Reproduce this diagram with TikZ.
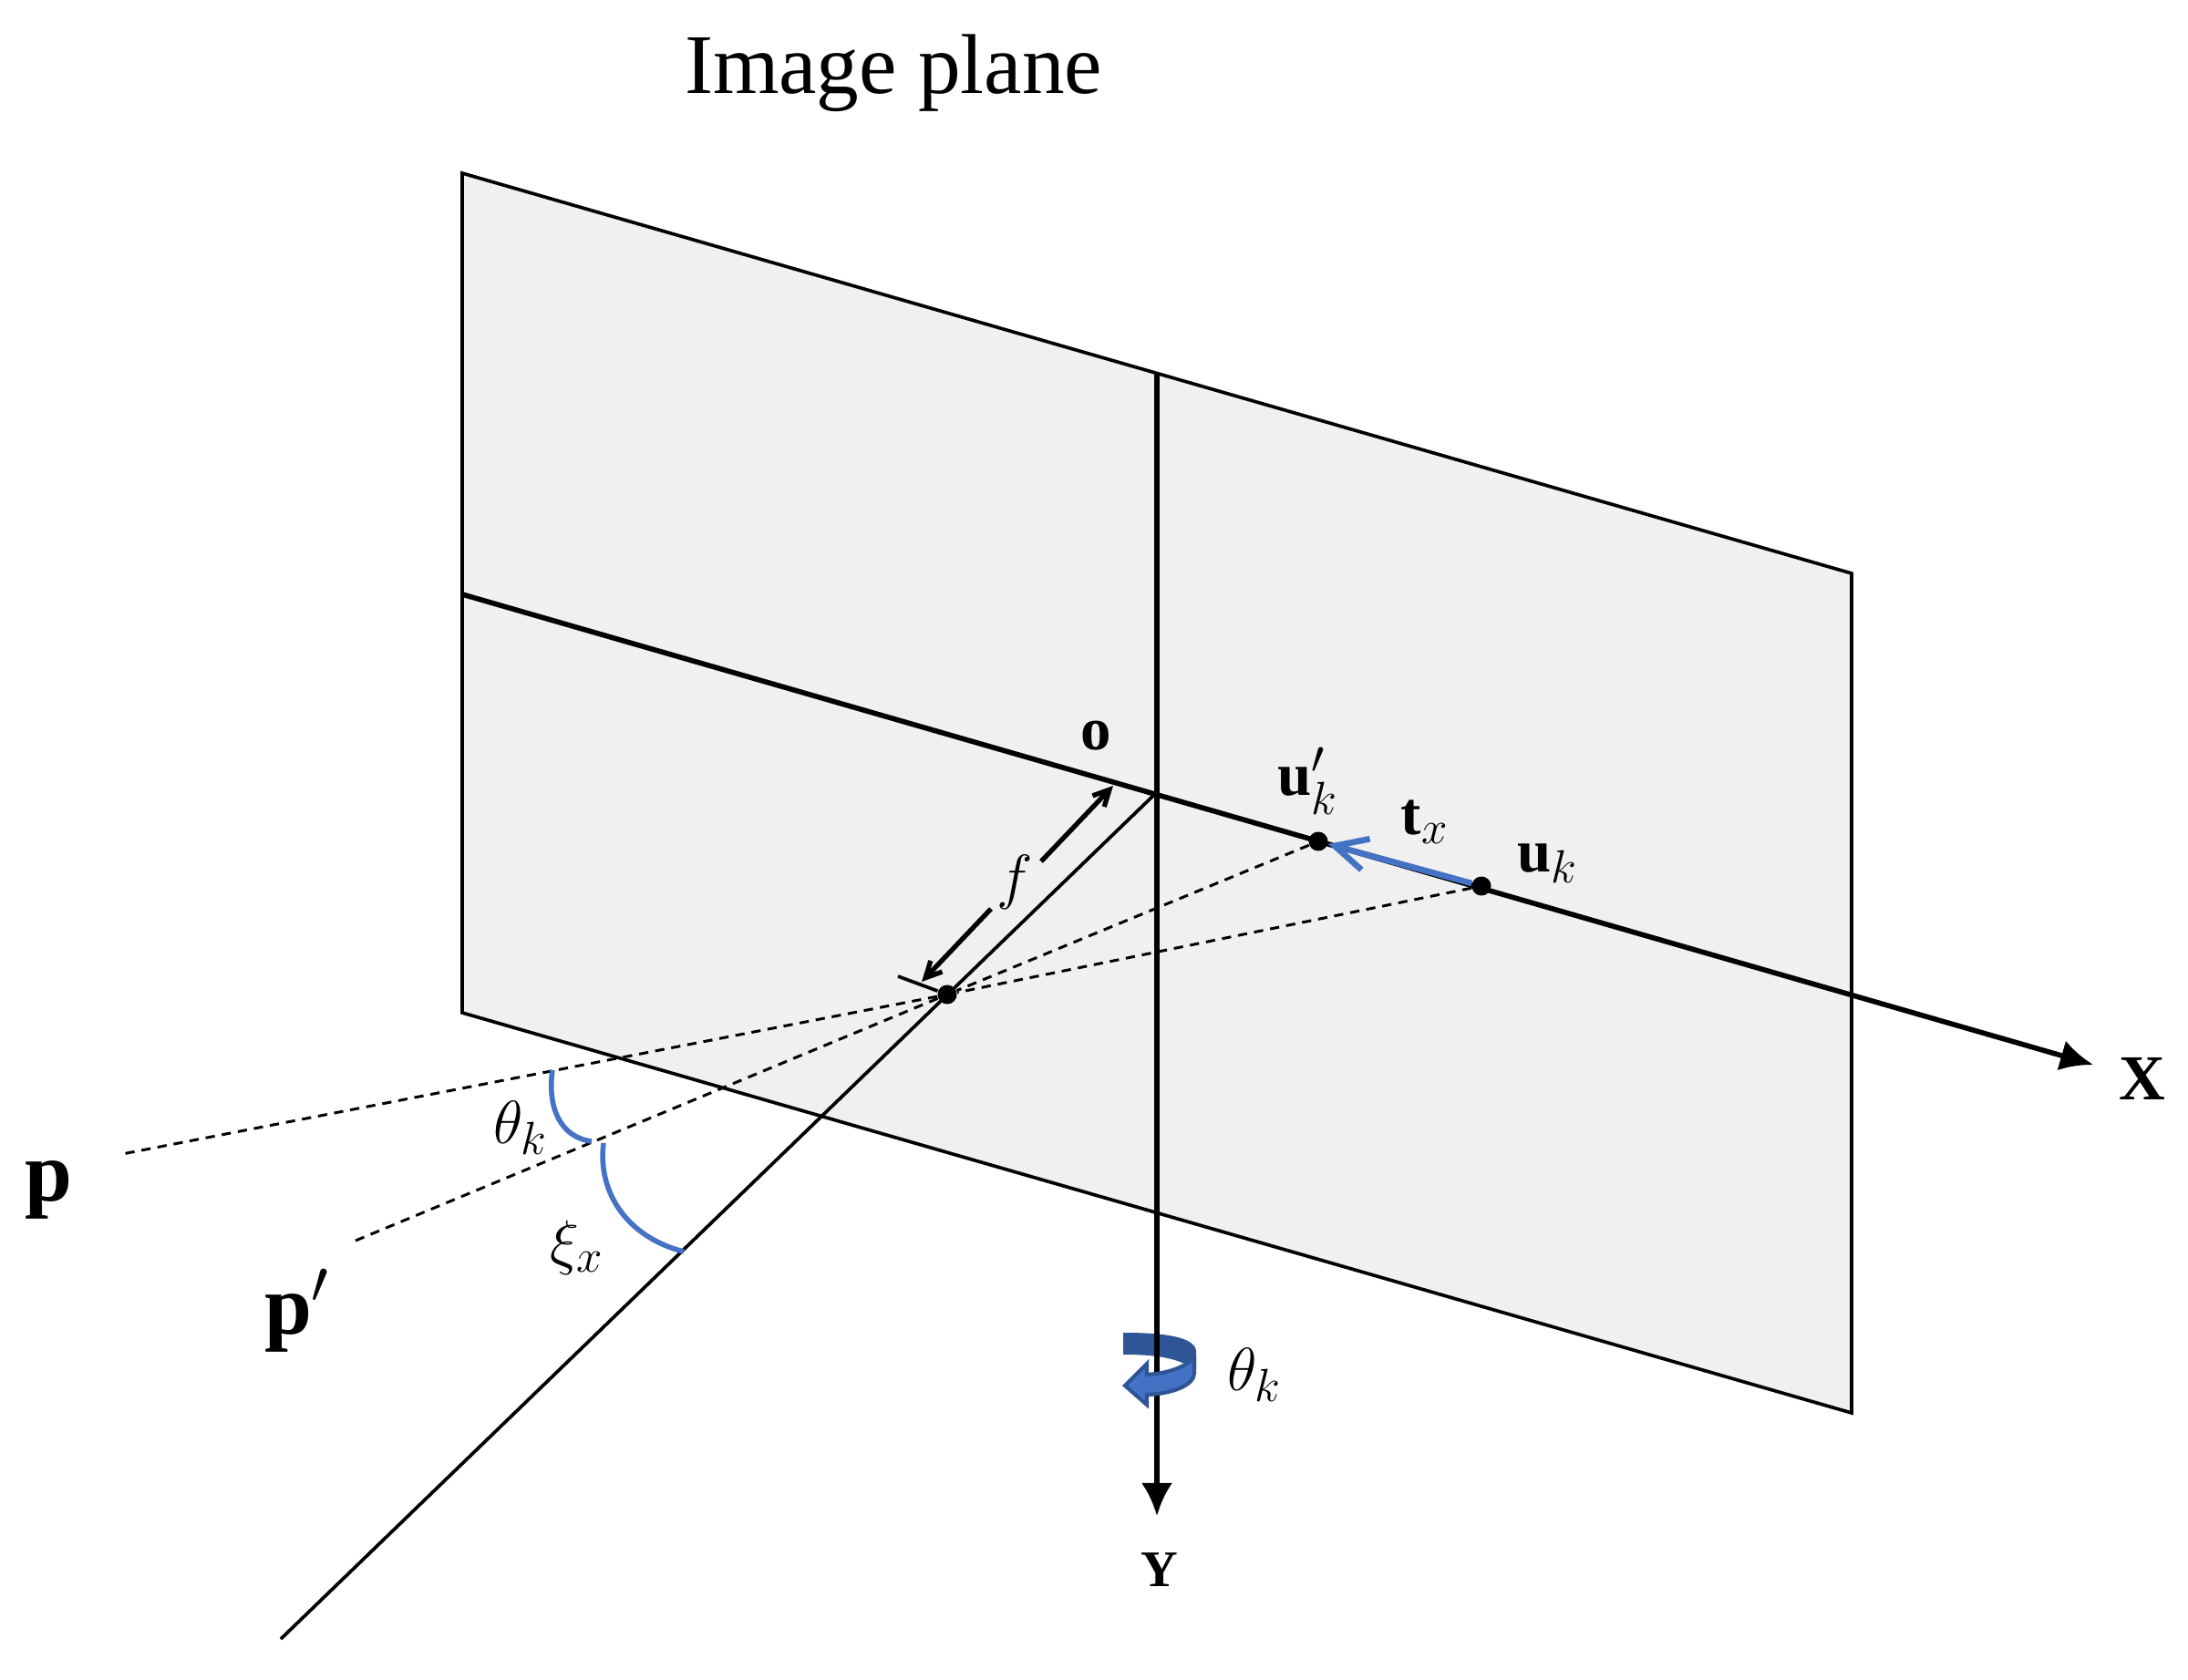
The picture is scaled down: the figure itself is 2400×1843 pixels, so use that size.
\documentclass[tikz,border=0pt]{standalone}
\usepackage{fix-cm}
\usepackage{amsmath}
\usepackage{fontspec}
\setmainfont{Liberation Serif}
\DeclareMathSizes{19}{19}{14.5}{11}
\DeclareMathSizes{26.5}{26.5}{19}{14}
\usepackage{tikz}
\usetikzlibrary{arrows.meta}
\definecolor{my_blue}{HTML}{4472C4}
\definecolor{my_darkblue}{HTML}{2F5597}
\definecolor{my_plane}{HTML}{F0F0F0}
\tikzset{my_figure/.style={x=0.01cm,y=-0.01cm,>=latex}}
\tikzset{my_dot/.style={circle, fill=black, inner sep=0pt, minimum size=0.21cm}}
\tikzset{my_axis/.style={line width=1.6pt, -{Latex[length=0.36cm,width=0.34cm]}}}
\tikzset{my_edge/.style={line width=1.05pt}}
\tikzset{my_ray/.style={line width=0.85pt, dash pattern=on 2.9pt off 2.2pt}}
\tikzset{my_length/.style={line width=1.5pt, -{Straight Barb[length=5pt,width=5pt]}}}
\tikzset{my_arc/.style={line width=1.6pt, my_blue}}
\tikzset{my_big/.style={font=\fontsize{26.5}{30}\selectfont}}
\tikzset{my_label/.style={font=\fontsize{19}{23}\selectfont}}

\begin{document}
\begin{tikzpicture}[my_figure]
    \useasboundingbox (0,0) rectangle (2400,1843);
    % image plane
    \coordinate (tl) at (507,190);
    \coordinate (tr) at (2031,629);
    \coordinate (br) at (2031,1550);
    \coordinate (bl) at (507,1111);
    \draw[my_edge, fill=my_plane] (tl) -- (tr) -- (br) -- (bl) -- cycle;

    \coordinate (o) at (1269,869);
    \coordinate (xstart) at (507,652);
    \coordinate (xend) at (2296,1168);
    \coordinate (ystart) at (1269,410);
    \coordinate (yend) at (1269,1663);
    \coordinate (zend) at (308,1798);
    \coordinate (pend) at (134,1266);
    \coordinate (qend) at (390,1361);

    % back of the rotation ribbon
    \fill[my_darkblue] (1232,1462) .. controls (1270,1462) and (1312,1465) .. (1312,1483)
        -- (1312,1500) -- (1297,1495) .. controls (1280,1488) and (1260,1486) .. (1232,1486) -- cycle;

    \draw[my_axis] (xstart) -- (xend);
    \draw[my_axis] (ystart) -- (yend);
    \draw[my_edge] (o) -- (zend);

    % front of the rotation ribbon
    \filldraw[my_blue, draw=my_darkblue, line width=1.2pt]
        (1310,1488) -- (1310,1506) .. controls (1310,1520) and (1285,1529) .. (1258,1530)
        -- (1258,1541) -- (1234,1520) -- (1258,1496) -- (1258,1508)
        .. controls (1275,1507) and (1300,1502) .. (1310,1488);

    \node[my_dot] (c) at (1039,1091) {};
    \node[my_dot] (up) at (1446,923) {};
    \node[my_dot] (u) at (1625,972) {};

    \draw[my_ray] (u) -- (c) -- (pend);
    \draw[my_ray] (up) -- (c) -- (qend);
    \coordinate (tick) at (985,1071);
    \draw[my_edge] (tick) -- (c);

    % focal length
    \node[my_label] (f) at (1113,968) {$f$};
    \draw[my_length] (f) ++(29,-23) -- (1221,862);
    \draw[my_length] (f) ++(-26,29) -- (1011,1077);

    \draw[line width=1.9pt, my_blue, -{Straight Barb[length=10pt,width=10pt]}] (u) -- (up);

    % angles
    \coordinate (a1) at (606,1174);
    \coordinate (a2) at (649,1252);
    \coordinate (b1) at (662,1254);
    \coordinate (b2) at (750,1373);
    \draw[my_arc] (a1) .. controls (600,1215) and (615,1248) .. (a2);
    \draw[my_arc] (b1) .. controls (655,1310) and (690,1358) .. (b2);

    \node[my_big] (title) at (980,80) {Image plane};
    \node[my_label] (olabel) at (1202,807) {$\textbf{o}$};
    \node[my_label] (uplabel) at (1435,857) {$\textbf{u}'_k$};
    \node[my_label] (tlabel) at (1563,902) {$\textbf{t}_x$};
    \node[my_label] (ulabel) at (1698,947) {$\textbf{u}_k$};
    \node[font=\fontsize{20}{24}\selectfont] (xlabel) at (2350,1183) {\textbf{X}};
    \node[font=\fontsize{16}{20}\selectfont] (ylabel) at (1272,1722) {\textbf{Y}};
    \node[my_big] (plabel) at (53,1305) {$\textbf{p}$};
    \node[my_big] (qlabel) at (326,1438) {$\textbf{p}'$};
    \node[my_label] (t1) at (571,1237) {$\theta_k$};
    \node[my_label] (xi) at (633,1369) {$\xi_x$};
    \node[my_label] (t2) at (1376,1508) {$\theta_k$};
\end{tikzpicture}
\end{document}
